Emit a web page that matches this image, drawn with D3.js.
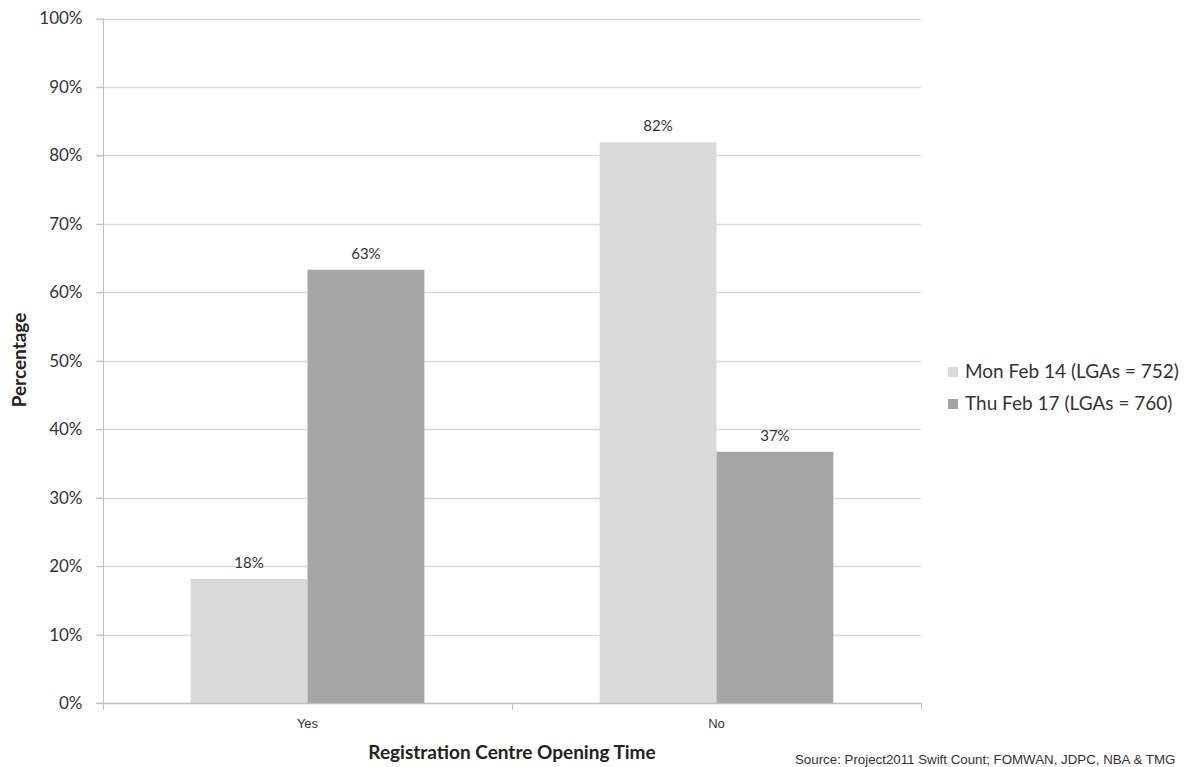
<!DOCTYPE html>
<html>
<head>
<meta charset="utf-8">
<script src="https://cdn.jsdelivr.net/npm/d3@7"></script>
<style>
  body { margin: 0; background: #fff; }
  svg { display: block; font-family: Lato, "Open Sans", sans-serif; }
</style>
</head>
<body>
<div id="chart"></div>
<script>
// data
const categories = ['Yes', 'No']
const seriesNames = ['Mon Feb 14 (LGAs = 752)', 'Thu Feb 17 (LGAs = 760)']
const monValues = [18.1, 81.9]
const thuValues = [63.3, 36.7]
const valueLabels = [['18%', '82%'], ['63%', '37%']]
const yTicks = [0, 10, 20, 30, 40, 50, 60, 70, 80, 90, 100]

const width = 1189, height = 767
const colors = ['#d9d9d9', '#a6a6a6']
const series = [monValues, thuValues]

const svg = d3.select('#chart').append('svg')
  .attr('width', width)
  .attr('height', height)

const x0 = d3.scaleBand().domain(categories).range([103, 921]).paddingInner(0).paddingOuter(0)
// bars take ~57% of each category slot
const x1 = d3.scaleBand().domain([0, 1]).range([0, x0.bandwidth()]).paddingOuter(0.75).paddingInner(0)
const y = d3.scaleLinear().domain([0, 100]).range([703, 18.5])

// gridlines
svg.append('g').selectAll('line')
  .data(yTicks.filter(d => d > 0)).enter()
  .append('line')
  .attr('x1', 96).attr('x2', 921)
  .attr('y1', d => Math.round(y(d)) + 0.5).attr('y2', d => Math.round(y(d)) + 0.5)
  .attr('stroke', '#d9d9d9')
  .attr('stroke-width', 1.5)

// y axis
const yAxis = d3.axisLeft(y).tickValues(yTicks).tickFormat(d => d + '%').tickSize(7).tickPadding(14)
const gy = svg.append('g').attr('transform', 'translate(103.5,0)').call(yAxis)
gy.select('.domain').attr('stroke', '#bfbfbf').attr('d', `M0,${y(100)}V${y(0)}`)
gy.selectAll('.tick line').attr('stroke', '#bfbfbf')
gy.selectAll('.tick text').attr('font-size', 17).attr('fill', '#333')
  .attr('font-family', 'Lato, sans-serif')

// bars
const groups = svg.append('g').selectAll('g')
  .data(series).enter()
  .append('g')
  .attr('fill', (d, i) => colors[i])

groups.selectAll('rect')
  .data((d, i) => d.map((v, j) => ({ s: i, c: categories[j], v, j })))
  .enter().append('rect')
  .attr('x', d => x0(d.c) + x1(d.s))
  .attr('width', x1.bandwidth())
  .attr('y', d => y(d.v))
  .attr('height', d => y(0) - y(d.v))

// data labels
groups.selectAll('text')
  .data((d, i) => d.map((v, j) => ({ s: i, c: categories[j], v, j })))
  .enter().append('text')
  .attr('x', d => x0(d.c) + x1(d.s) + x1.bandwidth() / 2)
  .attr('y', d => y(d.v) - 11)
  .attr('text-anchor', 'middle')
  .attr('font-size', 15)
  .attr('fill', '#333')
  .text(d => valueLabels[d.s][d.j])

// x axis
const xAxis = d3.axisBottom(x0).tickSize(0).tickPadding(16)
const gx = svg.append('g').attr('transform', `translate(0,${y(0)})`).call(xAxis)
gx.select('.domain').remove()
gx.selectAll('.tick text').attr('font-size', 13).attr('fill', '#333')
gx.append('line').attr('x1', 96).attr('x2', 921).attr('y1', 0.5).attr('y2', 0.5)
  .attr('stroke', '#bfbfbf').attr('stroke-width', 1.5)
gx.selectAll('.sep')
  .data([103, 512, 921]).enter()
  .append('line')
  .attr('x1', d => d + 0.5).attr('x2', d => d + 0.5)
  .attr('y1', 0).attr('y2', 7)
  .attr('stroke', '#bfbfbf')

// axis titles
svg.append('text')
  .attr('x', 512).attr('y', 759)
  .attr('text-anchor', 'middle')
  .attr('font-size', 19).attr('font-weight', 'bold').attr('fill', '#222')
  .text('Registration Centre Opening Time')

svg.append('text')
  .attr('transform', 'translate(26,360) rotate(-90)')
  .attr('text-anchor', 'middle')
  .attr('font-size', 19).attr('font-weight', 'bold').attr('fill', '#222')
  .text('Percentage')

// legend
const legend = svg.append('g').selectAll('g')
  .data(seriesNames).enter()
  .append('g')
  .attr('transform', (d, i) => `translate(948,${367 + i * 32})`)
legend.append('rect')
  .attr('width', 10).attr('height', 10)
  .attr('fill', (d, i) => colors[i])
legend.append('text')
  .attr('x', 17).attr('y', 11)
  .attr('font-size', 19).attr('fill', '#333')
  .text(d => d)

// source note
svg.append('text')
  .attr('x', 795).attr('y', 764)
  .attr('font-family', '"Liberation Sans", Arial, sans-serif')
  .attr('font-size', 13.3).attr('fill', '#333')
  .text('Source: Project2011 Swift Count; FOMWAN, JDPC, NBA & TMG')
</script>
</body>
</html>
